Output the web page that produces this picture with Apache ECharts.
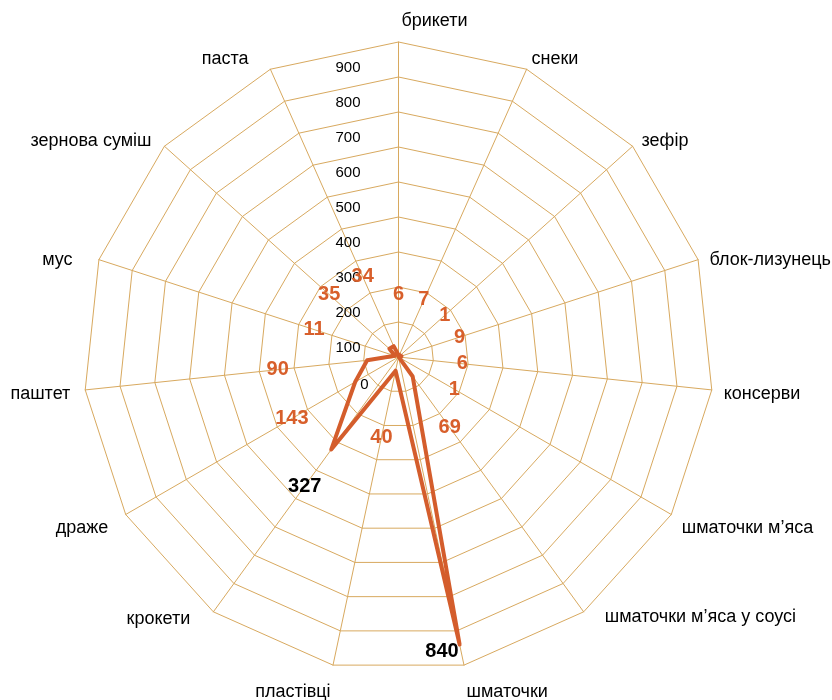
<!DOCTYPE html>
<html>
<head>
<meta charset="utf-8">
<script src="https://cdn.jsdelivr.net/npm/echarts@6/dist/echarts.min.js"></script>
<style>html,body{margin:0;padding:0;background:#fff}#c{width:832px;height:700px}</style>
</head>
<body>
<div id="c"></div>
<script>
// ---- data ----
const categories = ['брикети','снеки','зефір','блок-лизунець','консерви','шматочки м’яса','шматочки м’яса у соусі','шматочки','пластівці','крокети','драже','паштет','мус','зернова суміш','паста'];
const values = [6, 7, 1, 9, 6, 1, 69, 840, 40, 327, 143, 90, 11, 35, 34];
const axisMin = 0, axisMax = 900, axisStep = 100;

// ---- styles ----
const gridColor = '#D8A95F';
const lineColor = '#D45D2C';
const dataLabelColor = '#D85F2B';
const labelGaps = [60, 60, 62, 61, 62, 64, 63, 0, 68, 45, 73, 90, 85, 81, 76];
// fine nudges [dx, dy] of category names (px)
const nameShift = [[36, 2], [0, 1], [0, 3], [0, 4], [0, 3], [0, 8], [14, -5], [0, 15], [0, 15], [-16, -3], [-7, 8], [-3, 3], [-15, 4], [-4, 3], [-17, 1]];
const CX = 398.5, CY = 357, R = 315;
const FONT = 'Liberation Sans';
const n = categories.length;

// radar indicators run counter-clockwise; reorder so the picture goes clockwise
const order = [0].concat(categories.slice(1).map((_, k) => n - 1 - k));
const indicators = order.map(i => ({ name: categories[i], min: axisMin, max: axisMax }));
const radarValues = order.map(i => values[i]);

const rich = {};
categories.forEach((c, i) => {
  const th = i * 2 * Math.PI / n;
  const s = Math.sin(th);
  const [dx, dy] = nameShift[i];
  const pad = [0, 0, 0, 0];
  if (i === 0) {
    pad[3] = 2 * dx;
    if (dy < 0) pad[2] = -dy;
  } else {
    if (dy > 0) pad[0] = 2 * dy; else pad[2] = -2 * dy;
    if (s > 0) { if (dx > 0) pad[3] = dx; } else { if (dx < 0) pad[1] = -dx; }
  }
  rich['n' + i] = { padding: pad, fontSize: 18, fontFamily: FONT, color: '#000' };
});

const labelData = values.map((v, i) => {
  const th = i * 2 * Math.PI / n;
  const item = { value: [v, i] };
  const strong = v > 300;
  if (labelGaps[i] === 0) {
    item.label = { position: 'left', distance: 1, offset: [0, 7] };
  } else {
    item.label = { offset: [labelGaps[i] * Math.sin(th), -labelGaps[i] * Math.cos(th)] };
  }
  if (strong) item.label.color = '#000';
  return item;
});

const chart = echarts.init(document.getElementById('c'));
chart.setOption({
  animation: false,
  backgroundColor: '#fff',
  radar: {
    center: [CX, CY],
    radius: R,
    startAngle: 90,
    splitNumber: (axisMax - axisMin) / axisStep,
    shape: 'polygon',
    indicator: indicators,
    nameGap: 12,
    axisName: {
      color: '#000', fontSize: 18, fontFamily: FONT,
      formatter: function (name) { return '{n' + categories.indexOf(name) + '|' + name + '}'; },
      rich: rich
    },
    axisLine: { lineStyle: { color: gridColor, width: 1 } },
    splitLine: { lineStyle: { color: gridColor, width: 1 } },
    splitArea: { show: false }
  },
  polar: { center: [CX, CY], radius: R },
  angleAxis: {
    type: 'category', data: categories, startAngle: 90, clockwise: true, boundaryGap: false,
    axisLine: { show: false }, axisTick: { show: false }, axisLabel: { show: false }, splitLine: { show: false }
  },
  radiusAxis: {
    type: 'value', min: axisMin, max: axisMax, interval: axisStep,
    axisLine: { show: false }, axisTick: { show: false }, splitLine: { show: false },
    axisLabel: {
      show: true, color: '#000', fontSize: 15, fontFamily: FONT, margin: 30, verticalAlign: 'top', padding: [18, 0, 0, 0],
      formatter: v => (v === 0 ? '{z|0}' : '{a|' + v + '}'),
      rich: {
        a: { padding: [0, 8, 0, 0], fontSize: 15, fontFamily: FONT, color: '#000' },
        z: { padding: [2, 0, 0, 0], fontSize: 15, fontFamily: FONT, color: '#000' }
      }
    }
  },
  series: [
    {
      type: 'radar',
      symbol: 'none',
      lineStyle: { color: lineColor, width: 4 },
      data: [{ value: radarValues }]
    },
    {
      type: 'scatter',
      coordinateSystem: 'polar',
      symbolSize: 0,
      silent: true,
      itemStyle: { opacity: 1 },
      data: labelData,
      label: {
        show: true, position: 'inside', color: dataLabelColor, fontSize: 20, fontWeight: 'bold', fontFamily: FONT,
        formatter: p => p.value[0]
      }
    }
  ]
});
</script>
</body>
</html>
